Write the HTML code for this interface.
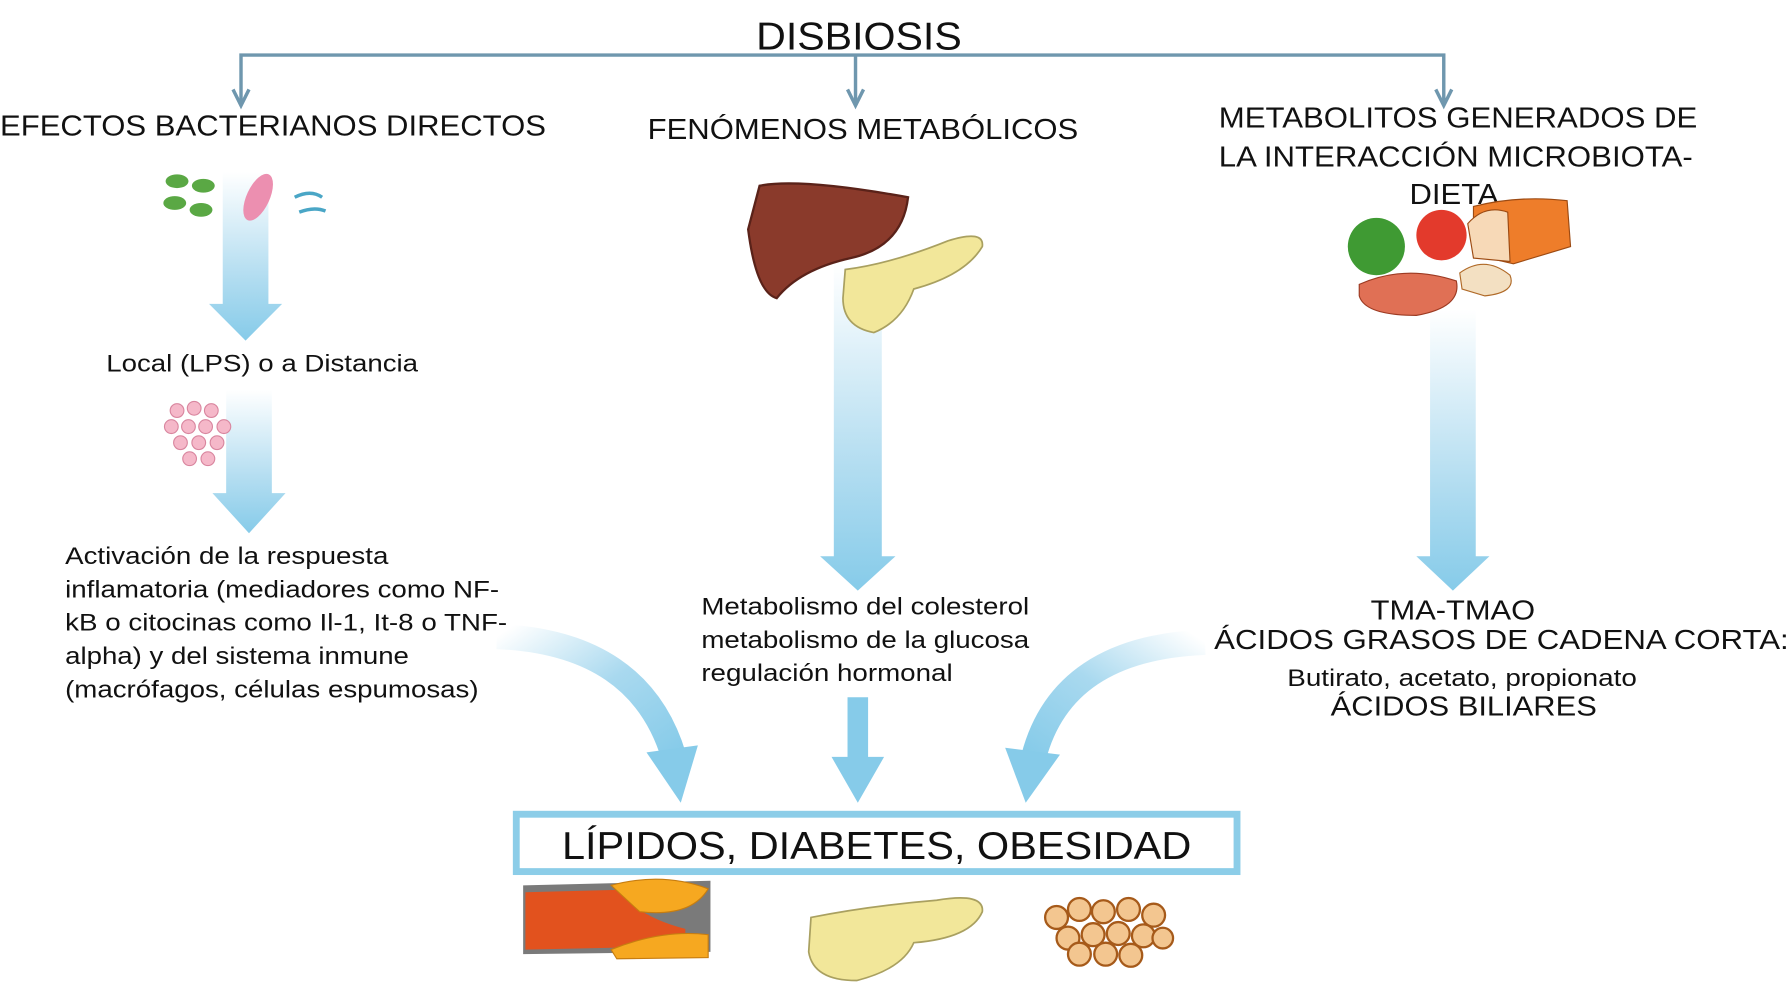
<!DOCTYPE html>
<html><head><meta charset="utf-8"><style>
html,body{margin:0;padding:0;background:#fff;width:1791px;height:992px;overflow:hidden}
svg{display:block}
text{font-family:"Liberation Sans",sans-serif;fill:#111}
</style></head><body>
<svg width="1791" height="992" viewBox="0 0 1568 865" preserveAspectRatio="none" xmlns="http://www.w3.org/2000/svg">
<defs>
<linearGradient id="g" x1="0" y1="0" x2="0" y2="1"><stop offset="0" stop-color="#fff"/><stop offset="0.6" stop-color="#b5def1"/><stop offset="1" stop-color="#86cbe9"/></linearGradient>
<linearGradient id="gl" x1="0" y1="0" x2="1" y2="1"><stop offset="0" stop-color="#fff"/><stop offset="0.5" stop-color="#a9d9ef"/><stop offset="1" stop-color="#86cbe9"/></linearGradient>
<linearGradient id="gr" x1="1" y1="0" x2="0" y2="1"><stop offset="0" stop-color="#fff"/><stop offset="0.5" stop-color="#a9d9ef"/><stop offset="1" stop-color="#86cbe9"/></linearGradient>
</defs>
<rect width="1568" height="865" fill="#fff"/>
<g stroke="#6f97ae" stroke-width="3" fill="none">
<path d="M211 90 V48 H1264 V90 M749 48 V90"/>
<path d="M204 78 L211 92 L218 78 M742 78 L749 92 L756 78 M1257 78 L1264 92 L1271 78"/>
</g>
<g lengthAdjust="spacingAndGlyphs">
<text x="662" y="43" font-size="34" textLength="180" lengthAdjust="spacingAndGlyphs">DISBIOSIS</text>
<text x="0" y="118" font-size="25" textLength="478" lengthAdjust="spacingAndGlyphs">EFECTOS BACTERIANOS DIRECTOS</text>
<text x="567" y="121" font-size="25" textLength="377" lengthAdjust="spacingAndGlyphs">FENÓMENOS METABÓLICOS</text>
<text x="1067" y="111" font-size="25" textLength="419" lengthAdjust="spacingAndGlyphs">METABOLITOS GENERADOS DE</text>
<text x="1067" y="145" font-size="25" textLength="415" lengthAdjust="spacingAndGlyphs">LA INTERACCIÓN MICROBIOTA-</text>
<text x="1234" y="178" font-size="25" textLength="78" lengthAdjust="spacingAndGlyphs">DIETA</text>
</g>
<path d="M195 150 H235 V265 H247 L215 297 L183 265 H195 Z" fill="url(#g)"/>
<path d="M198 340 H238 V430 H250 L218 465 L186 430 H198 Z" fill="url(#g)"/>
<path d="M730 230 H772 V485 H784 L751 515 L718 485 H730 Z" fill="url(#g)"/>
<path d="M742 608 H760 V660 H774 L751 700 L728 660 H742 Z" fill="#86cbe9"/>
<path d="M1252 270 H1292 V485 H1304 L1272 515 L1240 485 H1252 Z" fill="url(#g)"/>
<path d="M435 555 Q560 560 590 660" stroke="url(#gl)" stroke-width="22" fill="none"/>
<path d="M566 656 L596 700 L611 650 Z" fill="#86cbe9"/>
<path d="M1055 560 Q930 565 905 660" stroke="url(#gr)" stroke-width="22" fill="none"/>
<path d="M880 652 L898 700 L928 658 Z" fill="#86cbe9"/>
<text x="93" y="324" font-size="21" textLength="273" lengthAdjust="spacingAndGlyphs">Local (LPS) o a Distancia</text>
<g font-size="21">
<text x="57" y="492" textLength="283" lengthAdjust="spacingAndGlyphs">Activación de la respuesta</text>
<text x="57" y="521" textLength="380" lengthAdjust="spacingAndGlyphs">inflamatoria (mediadores como NF-</text>
<text x="57" y="550" textLength="387" lengthAdjust="spacingAndGlyphs">kB o citocinas como Il-1, It-8 o TNF-</text>
<text x="57" y="579" textLength="301" lengthAdjust="spacingAndGlyphs">alpha) y del sistema inmune</text>
<text x="57" y="608" textLength="362" lengthAdjust="spacingAndGlyphs">(macrófagos, células espumosas)</text>
<text x="614" y="536" textLength="287" lengthAdjust="spacingAndGlyphs">Metabolismo del colesterol</text>
<text x="614" y="565" textLength="287" lengthAdjust="spacingAndGlyphs">metabolismo de la glucosa</text>
<text x="614" y="594" textLength="220" lengthAdjust="spacingAndGlyphs">regulación hormonal</text>
</g>
<text x="1200" y="540" font-size="24" textLength="144" lengthAdjust="spacingAndGlyphs">TMA-TMAO</text>
<text x="1063" y="566" font-size="24" textLength="503" lengthAdjust="spacingAndGlyphs">ÁCIDOS GRASOS DE CADENA CORTA:</text>
<text x="1127" y="598" font-size="21" textLength="306" lengthAdjust="spacingAndGlyphs">Butirato, acetato, propionato</text>
<text x="1165" y="624" font-size="24" textLength="233" lengthAdjust="spacingAndGlyphs">ÁCIDOS BILIARES</text>
<rect x="452" y="710" width="631" height="50" fill="#fff" stroke="#8ccde8" stroke-width="6"/>
<text x="492" y="749" font-size="34" textLength="551" lengthAdjust="spacingAndGlyphs">LÍPIDOS, DIABETES, OBESIDAD</text>
<g fill="#5aa844"><ellipse cx="155" cy="158" rx="10" ry="6"/><ellipse cx="178" cy="162" rx="10" ry="6"/><ellipse cx="153" cy="177" rx="10" ry="6"/><ellipse cx="176" cy="183" rx="10" ry="6"/></g>
<ellipse cx="226" cy="172" rx="10" ry="22" transform="rotate(25 226 172)" fill="#ec8fb0"/>
<path d="M258 172 Q272 165 282 172 M262 185 Q275 180 285 184" stroke="#4aa6c6" stroke-width="3" fill="none"/>
<g fill="#f5b8c9" stroke="#d9869f"><circle cx="155" cy="358" r="6"/><circle cx="170" cy="356" r="6"/><circle cx="185" cy="358" r="6"/><circle cx="150" cy="372" r="6"/><circle cx="165" cy="372" r="6"/><circle cx="180" cy="372" r="6"/><circle cx="196" cy="372" r="6"/><circle cx="158" cy="386" r="6"/><circle cx="174" cy="386" r="6"/><circle cx="190" cy="386" r="6"/><circle cx="166" cy="400" r="6"/><circle cx="182" cy="400" r="6"/></g>
<path d="M665 162 Q700 155 795 172 Q790 215 745 225 Q700 235 680 260 Q662 255 655 200 Z" fill="#8a3a2b" stroke="#5a2219" stroke-width="2"/>
<path d="M740 235 Q780 230 830 210 Q862 200 860 215 Q845 240 800 252 Q790 280 765 290 Q738 285 738 260 Z" fill="#f2e79a" stroke="#a9a060" stroke-width="1.5"/>
<path d="M1290 180 Q1330 170 1372 175 L1375 215 L1325 230 L1290 222 Z" fill="#ee7d2a" stroke="#9c4a12"/>
<path d="M1285 195 Q1300 178 1320 185 L1322 228 L1290 225 Z" fill="#f7d9b7" stroke="#9c4a12"/>
<circle cx="1262" cy="205" r="22" fill="#e33a2c"/>
<circle cx="1205" cy="215" r="25" fill="#3f9a33"/>
<path d="M1190 248 Q1230 230 1275 245 Q1280 268 1240 275 Q1195 275 1190 258 Z" fill="#e07055" stroke="#9c3a22"/>
<path d="M1278 238 Q1300 222 1322 240 Q1328 255 1300 258 L1280 252 Z" fill="#f3e0c2" stroke="#b06a28"/>
<path d="M458 772 L622 768 L622 830 L458 832 Z" fill="#7a7a7a"/>
<path d="M460 778 L540 776 Q560 800 600 810 L600 825 L460 828 Z" fill="#e2521e"/>
<path d="M535 772 Q580 760 620 775 Q605 800 560 795 Z" fill="#f6a820" stroke="#c77d10"/>
<path d="M535 828 Q580 810 620 815 L620 835 L540 836 Z" fill="#f6a820" stroke="#c77d10"/>
<path d="M710 800 Q760 790 820 785 Q862 778 860 795 Q850 818 800 822 Q790 845 750 855 Q712 855 708 830 Z" fill="#f2e79a" stroke="#a9a060" stroke-width="1.5"/>
<g fill="#f3c690" stroke="#a65a1a" stroke-width="2"><circle cx="925" cy="800" r="10"/><circle cx="945" cy="793" r="10"/><circle cx="966" cy="795" r="10"/><circle cx="988" cy="793" r="10"/><circle cx="1010" cy="798" r="10"/><circle cx="935" cy="818" r="10"/><circle cx="957" cy="815" r="10"/><circle cx="979" cy="814" r="10"/><circle cx="1001" cy="816" r="10"/><circle cx="1018" cy="818" r="9"/><circle cx="945" cy="832" r="10"/><circle cx="968" cy="832" r="10"/><circle cx="990" cy="833" r="10"/></g>
</svg>
</body></html>
